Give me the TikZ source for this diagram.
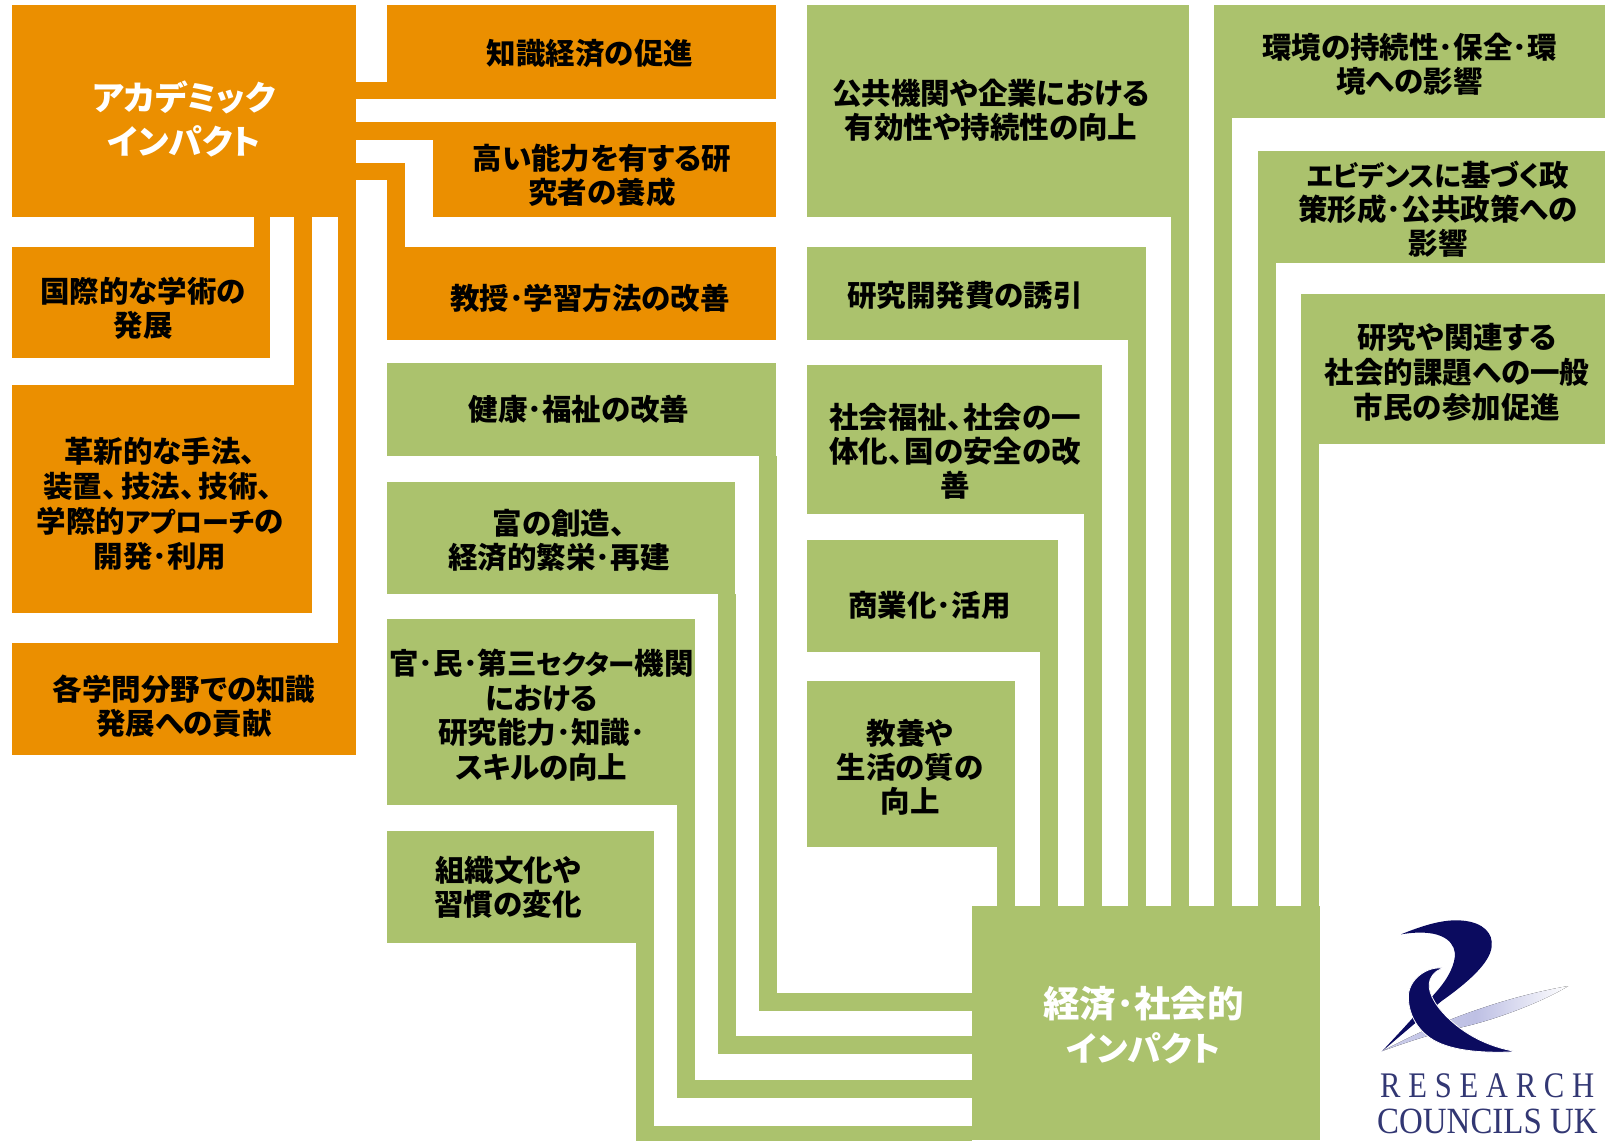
\documentclass[tikz,border=0pt]{standalone}
\usepackage{fontspec}
\setmainfont{Noto Sans CJK JP}[RawFeature=+palt]
\newfontfamily\logofont[LetterSpace=21.5,FakeStretch=0.85]{Liberation Serif}
\newfontfamily\logofontb[FakeStretch=0.89]{Liberation Serif}
\definecolor{acorg}{RGB}{235,143,0}
\definecolor{socgrn}{RGB}{171,194,109}
\definecolor{navy}{RGB}{11,11,95}
\definecolor{logotext}{RGB}{50,55,115}
\definecolor{logolight}{RGB}{190,192,228}
\newcommand\bxn[6]{\node[#6,minimum width={#4pt-#2pt},minimum height={#5pt-#3pt}] (#1) at ({(#2+#4)/2},{(#3+#5)/2}) {};}
\newcommand\kn[2]{{\fontsize{#1}{34}\selectfont #2}}
\tikzset{
  x=1pt,y=-1pt,
  obox/.style={fill=acorg,inner sep=0pt,outer sep=0pt},
  gbox/.style={fill=socgrn,inner sep=0pt,outer sep=0pt},
  oband/.style={draw=acorg,line width=17.5pt,line cap=butt,line join=miter},
  gband/.style={draw=socgrn,line width=18pt,line cap=butt,line join=miter},
  txt/.style={inner sep=0pt,align=center,text=black,font=\fontsize{29.5}{34}\selectfont\bfseries},
  headtxt/.style={inner sep=0pt,align=center,text=white,font=\fontsize{36.5}{44}\selectfont\bfseries},
}
\begin{document}
\begin{tikzpicture}
\useasboundingbox (0,0) rectangle (1605,1140);
\clip (0,0) rectangle (1605,1140);
% academic boxes
\bxn{ac}{12}{5.5}{356}{217}{obox}
\bxn{a1}{387}{5.5}{776}{99}{obox}
\bxn{a2}{433}{122}{776}{217}{obox}
\bxn{a3}{387}{247}{776}{340}{obox}
\bxn{a4}{12}{247}{270}{358}{obox}
\bxn{a5}{12}{385}{312}{612.5}{obox}
\bxn{a6}{12}{643}{356}{755}{obox}
% societal boxes
\bxn{hub}{972}{906}{1320}{1140}{gbox}
\bxn{s1}{387}{363}{776}{456}{gbox}
\bxn{s2}{387}{482}{735}{594}{gbox}
\bxn{s3}{387}{619}{694.5}{805}{gbox}
\bxn{s4}{387}{831}{654}{943}{gbox}
\bxn{m1}{807}{5.5}{1188.5}{217}{gbox}
\bxn{m2}{807}{247}{1145.5}{340}{gbox}
\bxn{m3}{807}{365}{1101.5}{514}{gbox}
\bxn{m4}{807}{540}{1058}{652}{gbox}
\bxn{m5}{807}{681}{1015}{846.5}{gbox}
\bxn{r1}{1214}{5.5}{1605}{118}{gbox}
\bxn{r2}{1258}{151}{1605}{263}{gbox}
\bxn{r3}{1301}{294}{1605}{444}{gbox}
% academic connectors
\coordinate (ya1) at (0,90.5);
\coordinate (ya2) at (0,131);
\coordinate (ya3) at (0,171.5);
\draw[oband] (ac.east |- ya1) -- (a1.west |- ya1);
\draw[oband] (ac.east |- ya2) -- (a2.west |- ya2);
\draw[oband] (ac.east |- ya3) -| ([xshift=9pt]a3.north west);
\draw[oband,line width=16pt] ([xshift=-8pt]a4.north east) -- ([xshift=-8pt]a4.north east |- ac.south);
\draw[oband] ([xshift=-9pt]a5.north east) -- ([xshift=-9pt]a5.north east |- ac.south);
\draw[oband] ([xshift=-9pt]a6.north east) -- ([xshift=-9pt]a6.north east |- ac.south);
% societal connectors, left column
\coordinate (ys1) at (0,1001.5);
\coordinate (ys2) at (0,1045);
\coordinate (ys3) at (0,1089);
\coordinate (ys4) at (0,1135);
\draw[gband] ([xshift=-8.5pt]s1.south east) |- (hub.west |- ys1);
\draw[gband] ([xshift=-8.5pt]s2.south east) |- (hub.west |- ys2);
\draw[gband] ([xshift=-8.5pt]s3.south east) |- (hub.west |- ys3);
\draw[gband] ([xshift=-9pt]s4.south east) |- (hub.west |- ys4);
% societal connectors, upper columns
\foreach \bn in {m1,m2,m3,m4,m5}{
  \draw[gband] ([xshift=-9pt]\bn.south east) -- ([xshift=-9pt]\bn.south east |- hub.north);
}
\foreach \bn in {r1,r2,r3}{
  \draw[gband] ([xshift=9pt]\bn.south west) -- ([xshift=9pt]\bn.south west |- hub.north);
}
% texts
\node[headtxt] (tac) at (184,119) {\kn{33.8}{アカデミック}\\\kn{33.8}{インパクト}};
\node[headtxt] (thub) at (1143.5,1025) {経済･社会的\\\kn{33.8}{インパクト}};
\node[txt] (t1) at (590,53) {知識経済の促進};
\node[txt] (t2) at (602,175) {高い能力を有する研\\究者の養成};
\node[txt] (t3) at (590,298) {教授･学習方法の改善};
\node[txt] (t4) at (143,308) {国際的な学術の\\発展};
\node[txt,font=\fontsize{29.5}{35}\selectfont\bfseries] (t5) at (160,504) {革新的な手法、\\装置、\kern4pt技法、\kern4pt技術、\kern4pt\\学際的\kn{27}{アプローチ}の\\開発･利用};
\node[txt] (t6) at (184,706) {各学問分野での知識\\発展への貢献};
\node[txt] (t7) at (579,409.5) {健康･福祉の改善};
\node[txt] (t8) at (559,540) {富の創造、\\経済的繁栄･再建};
\node[txt,font=\fontsize{29.5}{34.5}\selectfont\bfseries] (t9) at (541.5,715) {官･民･第三\kn{26.5}{セクター}機関\\における\\研究能力･知識･\\スキルの向上};
\node[txt] (t10) at (508,887) {組織文化や\\習慣の変化};
\node[txt] (t11) at (991,110.5) {公共機関や企業における\\有効性や持続性の向上};
\node[txt] (t12) at (965,295) {研究開発費の誘引};
\node[txt] (t13) at (955,451) {社会福祉、\kern1.5pt社会の一\\体化、\kern1.5pt国の安全の改\\善};
\node[txt] (t14) at (929.5,605) {商業化･活用};
\node[txt] (t15) at (910,767.5) {教養や\\生活の質の\\向上};
\node[txt] (t16) at (1409.5,64.5) {環境の持続性･保全･環\\境への影響};
\node[txt] (t17) at (1438,209.5) {\kn{27.5}{エビデンスに}基づ\kn{27.5}{く}政\\策形成･公共政策への\\影響};
\node[txt,font=\fontsize{29.5}{35}\selectfont\bfseries] (t18) at (1457,372) {研究や関連する\\社会的課題への一般\\市民の参加促進};
% logo
\begin{scope}[shift={(1340,900)},x=0.3333pt,y=-0.3333pt]
  \fill[left color=logolight!80!white,right color=white,middle color=logolight] (130,452) .. controls (300,360) and (500,290) .. (685,258) .. controls (600,310) and (450,365) .. (350,385) .. controls (280,400) and (190,430) .. (130,452) -- cycle;
  \fill[navy] (183,103) .. controls (240,80) and (310,55) .. (370,62) .. controls (430,68) and (460,100) .. (455,140) .. controls (450,190) and (380,250) .. (305,303) -- (225,370) -- (125,455) -- (190,385) -- (285,280) .. controls (330,230) and (345,190) .. (345,160) .. controls (340,115) and (290,85) .. (183,103) -- cycle;
  \filldraw[navy,draw=white,line width=0.8pt] (315,205) .. controls (260,195) and (205,240) .. (205,290) .. controls (205,340) and (230,390) .. (280,420) .. controls (340,455) and (440,460) .. (530,455) .. controls (440,440) and (370,400) .. (320,350) .. controls (280,310) and (260,270) .. (270,240) .. controls (280,215) and (300,205) .. (315,205) -- cycle;
\end{scope}
\node[inner sep=0pt,anchor=base west,text=logotext,font=\fontsize{36}{36}\logofont] (lg1) at (1380,1097) {RESEARCH};
\node[inner sep=0pt,anchor=base west,text=logotext,font=\fontsize{37}{37}\logofontb] (lg2) at (1377,1133) {COUNCILS UK};
\end{tikzpicture}
\end{document}
